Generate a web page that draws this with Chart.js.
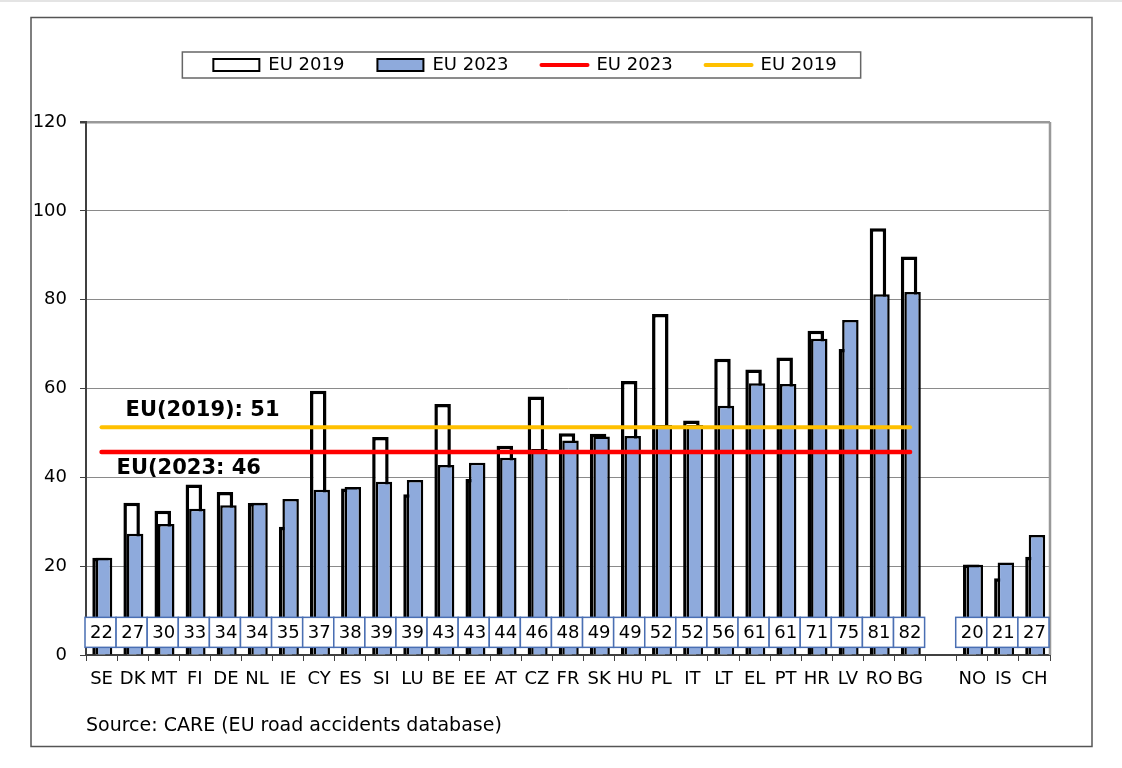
<!DOCTYPE html>
<html>
<head>
<meta charset="utf-8">
<title>Road deaths per million inhabitants, 2019 and 2023</title>
<script src="https://cdn.jsdelivr.net/npm/chart.js@4.4.1/dist/chart.umd.min.js"></script>
<style>
  body { margin: 0; background: #fff; }
  #chartBox { position: relative; width: 1122px; height: 768px; }
</style>
</head>
<body>
<div id="chartBox"><canvas id="deathsChart"></canvas></div>
<script>
// EU27 first (sorted by 2023), then an empty slot, then the EFTA countries
var countries = ["SE", "DK", "MT", "FI", "DE", "NL", "IE", "CY", "ES", "SI", "LU", "BE", "EE", "AT", "CZ",
  "FR", "SK", "HU", "PL", "IT", "LT", "EL", "PT", "HR", "LV", "RO", "BG", "", "NO", "IS", "CH"];
var rate2019 = [21.9, 34.3, 32.5, 38.4, 36.7, 34.2, 28.9, 59.5, 37.5, 49.1, 36.2, 56.5, 39.6, 47.1, 58.2,
  49.9, 49.8, 61.7, 76.8, 52.8, 66.7, 64.3, 67.0, 73.0, 68.9, 96.1, 89.7, null, 20.4, 17.3, 22.1];
var rate2023 = [21.9, 27.3, 29.5, 32.9, 33.7, 34.3, 35.1, 37.2, 37.8, 39.0, 39.4, 42.8, 43.3, 44.4, 46.4,
  48.3, 49.2, 49.3, 51.8, 51.8, 56.1, 61.2, 61.0, 71.2, 75.4, 81.2, 81.7, null, 20.3, 20.8, 27.0];
var euCount = 27;
var euAverage2019 = 51.3;
var euAverage2023 = 45.7;
var yMin = 0, yMax = 120, yStep = 20;
var sourceText = "Source: CARE (EU road accidents database)";

Chart.defaults.font.family = "'DejaVu Sans', Verdana, sans-serif";
Chart.defaults.font.size = 18;
Chart.defaults.color = "#000";

window.onload = drawChart;

function averageLine(value) {
  var line = [];
  for (var i = 0; i < countries.length; i++) {
    line.push(i < euCount ? value : null);
  }
  return line;
}

function legendItems(chart) {
  return chart.data.datasets.map(function (ds, i) {
    var isLine = ds.type == "line";
    return {
      text: ds.label,
      datasetIndex: i,
      fillStyle: ds.backgroundColor,
      strokeStyle: ds.borderColor,
      lineWidth: isLine ? 4 : 2,
      lineCap: isLine ? "round" : "butt",
      pointStyle: isLine ? "line" : "rect",
      hidden: false
    };
  });
}

// extra room between the legend and the plot
var legendSpace = {
  id: "legendSpace",
  beforeInit: function (chart) {
    var fit = chart.legend.fit;
    chart.legend.fit = function () {
      fit.bind(chart.legend)();
      this.height += 38;
    };
  }
};

// the two bars of a country overlap, 2019 sits a bit to the left
var nudgeBars = {
  id: "nudgeBars",
  afterDatasetsUpdate: function (chart) {
    chart.getDatasetMeta(0).data.forEach(function (bar) { bar.x -= 1; });
    chart.getDatasetMeta(1).data.forEach(function (bar) { bar.x += 2.5; });
  }
};

var decorations = {
  id: "decorations",
  beforeDraw: function (chart) {
    var ctx = chart.ctx;
    ctx.save();
    ctx.fillStyle = "#fff";
    ctx.fillRect(0, 0, chart.width, chart.height);
    ctx.fillStyle = "#e4e4e4";
    ctx.fillRect(0, 0, chart.width, 2);
    ctx.strokeStyle = "#555";
    ctx.lineWidth = 1.5;
    ctx.strokeRect(31, 17.5, 1061, 729);
    ctx.restore();
  },
  beforeDatasetsDraw: function (chart) {
    var ctx = chart.ctx, area = chart.chartArea;
    ctx.save();
    ctx.strokeStyle = "#999";
    ctx.lineWidth = 2.5;
    ctx.beginPath();
    ctx.moveTo(area.right, area.top);
    ctx.lineTo(area.right, area.bottom);
    ctx.stroke();
    ctx.restore();
  },
  afterDatasetsDraw: function (chart) {
    var ctx = chart.ctx, xAxis = chart.scales.x, yAxis = chart.scales.y;
    var slot = xAxis.width / countries.length;
    var boxMid = yAxis.getPixelForValue(5.1);
    ctx.save();
    ctx.font = "18px 'DejaVu Sans'";
    ctx.textAlign = "center";
    ctx.textBaseline = "middle";
    for (var i = 0; i < countries.length; i++) {
      if (rate2023[i] == null) { continue; }
      var x = xAxis.getPixelForValue(i) - 1;
      ctx.fillStyle = "#fff";
      ctx.fillRect(x - slot / 2, boxMid - 15, slot, 30);
      ctx.strokeStyle = "#4a6fb3";
      ctx.lineWidth = 1.5;
      ctx.strokeRect(x - slot / 2, boxMid - 15, slot, 30);
      ctx.fillStyle = "#000";
      ctx.fillText(Math.round(rate2023[i]), x + 1, boxMid + 1);
    }
    var firstX = xAxis.getPixelForValue(0);
    ctx.font = "bold 21px 'DejaVu Sans'";
    ctx.textAlign = "left";
    ctx.fillText("EU(2019): " + Math.round(euAverage2019), firstX + 24, yAxis.getPixelForValue(euAverage2019 + 3.8));
    ctx.fillText("EU(2023: " + Math.round(euAverage2023), firstX + 15, yAxis.getPixelForValue(euAverage2023 - 3.8));
    ctx.restore();
  },
  afterDraw: function (chart) {
    var ctx = chart.ctx;
    var boxes = chart.legend.legendHitBoxes;
    var first = boxes[0], last = boxes[boxes.length - 1];
    var left = first.left - 31, right = last.left + last.width + 24;
    ctx.save();
    ctx.strokeStyle = "#666";
    ctx.lineWidth = 1.5;
    ctx.strokeRect(left, first.top - 4, right - left, 26);
    ctx.font = "19px 'DejaVu Sans'";
    ctx.fillStyle = "#000";
    ctx.textBaseline = "middle";
    ctx.fillText(sourceText, chart.scales.x.left, 726);
    ctx.restore();
  }
};

function drawChart() {
  var canvas = document.getElementById("deathsChart");
  new Chart(canvas, {
    type: "bar",
    data: {
      labels: countries,
      datasets: [
        { label: "EU 2019", data: rate2019, backgroundColor: "#ffffff", borderColor: "#000000", borderWidth: 3.5, order: 2 },
        { label: "EU 2023", data: rate2023, backgroundColor: "#8eaadc", borderColor: "#000000", borderWidth: 2.5, order: 1 },
        { type: "line", label: "EU 2023", data: averageLine(euAverage2023), borderColor: "#ff0000", backgroundColor: "#ff0000",
          borderWidth: 4.5, borderCapStyle: "round", pointRadius: 0, order: 0 },
        { type: "line", label: "EU 2019", data: averageLine(euAverage2019), borderColor: "#ffc000", backgroundColor: "#ffc000",
          borderWidth: 4, borderCapStyle: "round", pointRadius: 0, order: 0 }
      ]
    },
    options: {
      responsive: true,
      maintainAspectRatio: false,
      animation: false,
      layout: { padding: { top: 23, right: 72, bottom: 73, left: 0 } },
      datasets: { bar: { grouped: false, barPercentage: 0.53, categoryPercentage: 1 } },
      scales: {
        x: {
          grid: { drawOnChartArea: false, offset: true, tickLength: 6, tickColor: "#404040" },
          border: { color: "#404040", width: 2 },
          ticks: { autoSkip: false, maxRotation: 0, padding: 8 },
          afterFit: function (scale) { scale.height = 40; }
        },
        y: {
          min: yMin,
          max: yMax,
          ticks: { stepSize: yStep, padding: 13 },
          grid: {
            color: function (c) { return c.tick && c.tick.value == yMax ? "#999" : "#8a8a8a"; },
            lineWidth: function (c) { return c.tick && c.tick.value == yMax ? 2.5 : 1; },
            tickLength: 6,
            tickColor: "#404040"
          },
          border: { color: "#404040", width: 2 },
          afterFit: function (scale) { scale.width = 86; }
        }
      },
      plugins: {
        legend: {
          labels: {
            usePointStyle: true,
            pointStyleWidth: 46,
            boxHeight: 12,
            padding: 33,
            generateLabels: legendItems
          }
        },
        tooltip: { enabled: false }
      }
    },
    plugins: [legendSpace, nudgeBars, decorations]
  });
}
</script>
</body>
</html>
